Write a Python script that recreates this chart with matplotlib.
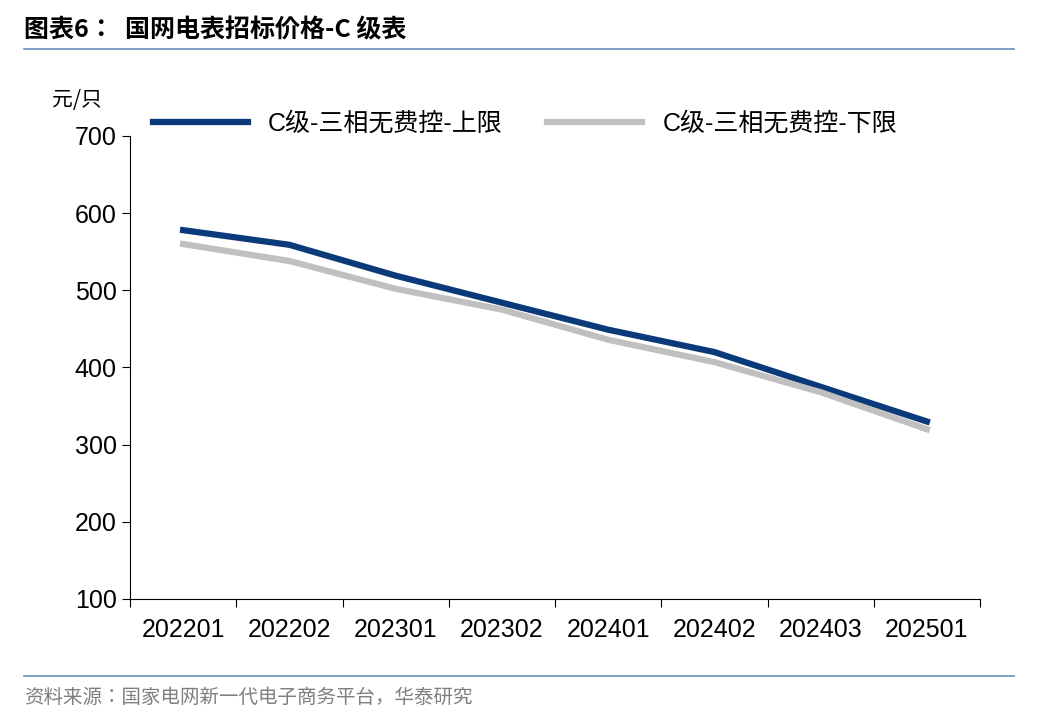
import matplotlib.pyplot as plt
import matplotlib.lines as mlines
from matplotlib import font_manager
import numpy as np

cjk_names = sorted({f.name for f in font_manager.fontManager.ttflist if 'CJK' in f.name})
cjk = next((n for n in cjk_names if 'SC' in n), cjk_names[0] if cjk_names else 'DejaVu Sans')
plt.rcParams['font.family'] = ['Liberation Sans', cjk]

periods = ['202201', '202202', '202301', '202302', '202401', '202402', '202403', '202501']
upper = [578, 559, 519, 484, 449, 420, 375, 330]
lower = [560, 538, 502, 475, 436, 407, 368, 320]
yticks = [100, 200, 300, 400, 500, 600, 700]

fig = plt.figure(figsize=(10.48, 7.28), dpi=100)
fig.patch.set_facecolor('white')
W, H = 1048, 728
ax = fig.add_axes([130 / W, 1 - 599 / H, 850 / W, (599 - 136) / H])

x = np.arange(len(periods))
ax.plot(x, upper, color='#0b3a7a', lw=4.5, label='C级-三相无费控-上限')
ax.plot(x, lower, color='#c0c0c0', lw=4.5, label='C级-三相无费控-下限')

ax.set_xlim(-0.5, len(periods) - 0.5)
ax.set_ylim(100, 700)
ax.set_yticks(yticks)
ax.set_xticks(np.arange(-0.5, len(periods)), minor=False)
ax.set_xticklabels([])
ax.set_xticks(x, minor=True)
ax.set_xticklabels(periods, minor=True, fontsize=18)
ax.tick_params(axis='x', which='minor', length=0, pad=14)
ax.tick_params(axis='x', which='major', direction='out', length=6)
ax.tick_params(axis='y', direction='out', length=6, labelsize=18)
for s in ['top', 'right']:
    ax.spines[s].set_visible(False)

ax.legend(loc='upper left', bbox_to_anchor=(0.0, 1.1), ncol=2, frameon=False,
          prop={'family': ['Liberation Sans', cjk], 'size': 18},
          handlelength=3.8, columnspacing=1.8)

fig.text(52 / W, 1 - 100 / H, '元/只', fontsize=15, ha='left', va='center', family=cjk)
fig.text(24 / W, 1 - 30 / H, '图表6：  国网电表招标价格-C 级表', fontsize=18,
         fontweight='bold', ha='left', va='center', family=cjk)
fig.text(24 / W, 1 - 697 / H, '资料来源：国家电网新一代电子商务平台，华泰研究', fontsize=14,
         color='#7f7f7f', ha='left', va='center', family=cjk)
fig.add_artist(mlines.Line2D([24 / W, 1014 / W], [1 - 49 / H] * 2, color='#6a8bbf', lw=1.2))
fig.add_artist(mlines.Line2D([24 / W, 1014 / W], [1 - 676 / H] * 2, color='#6a8bbf', lw=1.2))

plt.savefig('out.png', dpi=100)
